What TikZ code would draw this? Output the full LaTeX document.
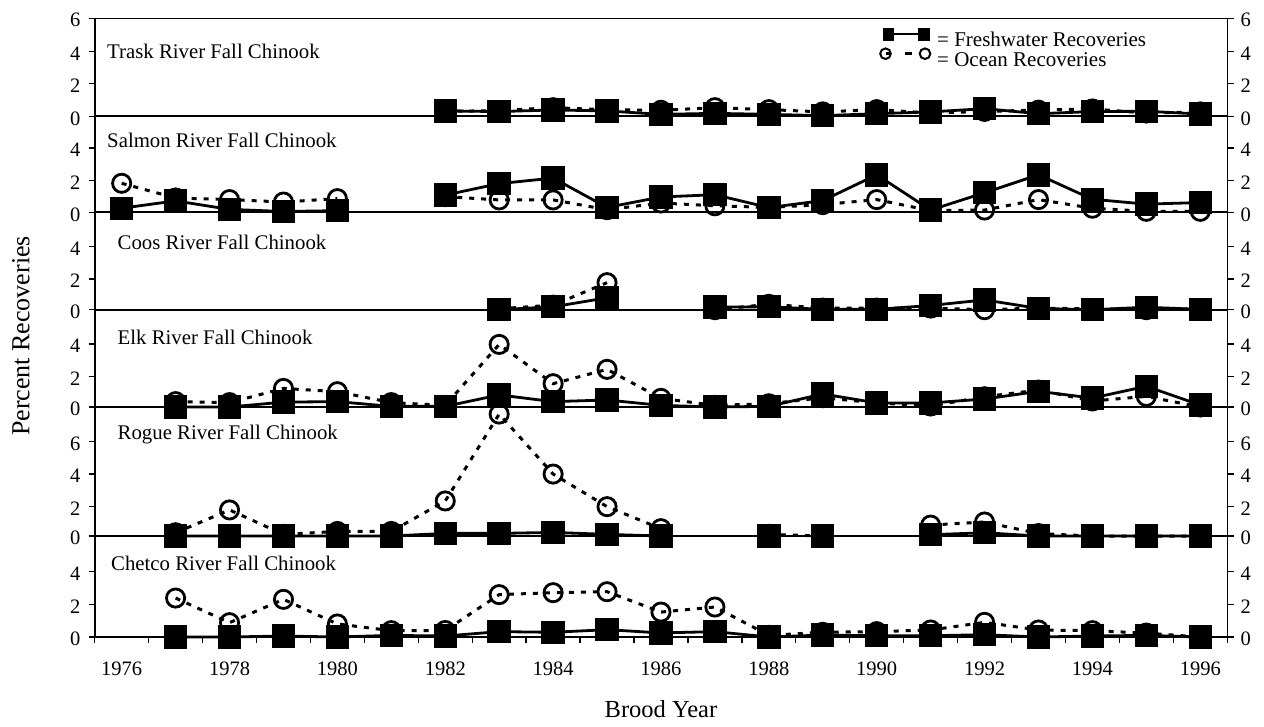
\documentclass[tikz,border=0pt]{standalone}
\usepackage{fontspec}
\setmainfont{Liberation Serif}
\newcommand\mkpth[1]{%
  \gdef\pth{}%
  \foreach \t/\v [count=\i] in {#1}{\ifnum\i=1 \xdef\pth{(\t,\v)}\else\xdef\pth{\pth -- (\t,\v)}\fi}%
}
\newcommand\fseries[1]{%
  \mkpth{#1}%
  \edef\cmd{\noexpand\draw[fline] \pth;}\cmd
  \foreach \t/\v in {#1}{\fill (\t,\v) ++(-11.7pt,-11.7pt) rectangle ++(23.4pt,23.4pt);}%
}
\newcommand\oseries[1]{%
  \mkpth{#1}%
  \edef\cmd{\noexpand\draw[oline] \pth;}\cmd
  \foreach \t/\v in {#1}{\draw[omark] (\t,\v) circle[radius=9.1pt];}%
}
\begin{document}
\begin{tikzpicture}[x=1pt,y=-1pt,
  ax/.style={line width=1.6pt},
  zl/.style={line width=2.3pt},
  tk/.style={line width=1.4pt},
  lab/.style={font=\fontsize{20.5}{24}\selectfont, inner sep=0pt},
  ttl/.style={font=\fontsize{20.8}{24}\selectfont, inner sep=0pt, anchor=base west},
  leg/.style={font=\fontsize{21}{24}\selectfont, inner sep=0pt, anchor=base west},
  fline/.style={line width=2.8pt},
  oline/.style={line width=3pt, dash pattern=on 5pt off 7pt},
  omark/.style={line width=2.8pt, solid},
  panel/.style={x=53.93pt, y=16.3pt}
]
\useasboundingbox (0,0) rectangle (1264,726);
\fill[white] (0,0) rectangle (1264,726);

% frame
\draw[ax] (94.7,18.3) -- (1227.3,18.3);
\draw[ax] (94.7,18.3) -- (94.7,637);
\draw[ax] (1227.3,18.3) -- (1227.3,637);
\foreach \z in {116.3,212.3,309.7,407,536,637}
  \draw[zl] (94.7,\z) -- (1227.3,\z);

% y tick marks and labels
\foreach \yy/\vv [count=\i] in {18.3/6,51.7/4,83.3/2,116.3/0,148/4,180.6/2,212.3/0,246.7/4,279/2,309.7/0,344/4,376.7/2,407/0,441.7/6,474/4,506.7/2,536/0,571.7/4,604.3/2,637/0}{
  \draw[tk] (88.5,\yy) -- (94.7,\yy);
  \draw[tk] (1227.3,\yy) -- (1233.5,\yy);
  \node[lab, anchor=east] (ll\i) at (80.5,\yy+2) {\vv};
  \node[lab, anchor=west] (rl\i) at (1240.5,\yy+2) {\vv};
}
% x ticks and labels
\foreach \k in {0,...,21}
  \draw[tk] ({94.7+\k*53.93},637) -- ({94.7+\k*53.93},643);
\foreach \yr in {1976,1978,...,1996}
  \node[lab, anchor=base] (yr\yr) at ({121.67+(\yr-1976)*53.93},675) {\yr};

% axis titles
\node[font=\fontsize{26}{30}\selectfont, inner sep=0pt, rotate=90] (ytitle) at (21,336) {Percent Recoveries};
\node[font=\fontsize{24.5}{28}\selectfont, inner sep=0pt, anchor=base] (xtitle) at (661,717.3) {Brood Year};

% panel titles
\node[ttl] (t1) at (107,58.8) {Trask River Fall Chinook};
\node[ttl] (t2) at (107,147) {Salmon River Fall Chinook};
\node[ttl] (t3) at (117.5,249.8) {Coos River Fall Chinook};
\node[ttl] (t4) at (117.5,344.8) {Elk River Fall Chinook};
\node[ttl] (t5) at (117.5,439.8) {Rogue River Fall Chinook};
\node[ttl] (t6) at (111,570) {Chetco River Fall Chinook};

% legend
\fill (882.7,28.3) rectangle (894.3,40.7);
\fill (918.3,28.3) rectangle (930,40.7);
\draw[line width=2.5pt] (894,33.8) -- (918.5,33.8);
\draw[line width=2pt] (885.5,53.7) circle[radius=5.3pt];
\draw[line width=2pt] (925,53.7) circle[radius=5.3pt];
\draw[line width=2.2pt] (885.5,53.5) -- (890,53.5);
\draw[line width=2.2pt] (905,53.5) -- (911.5,53.5);
\node[leg] (l1) at (937,46.7) {= Freshwater Recoveries};
\node[leg] (l2) at (937,66.7) {= Ocean Recoveries};

% Trask
\begin{scope}[shift={(121.67,116.3)}, panel]
\oseries{6/.3,7/.35,8/.53,9/.4,10/.37,11/.53,12/.41,13/.27,14/.41,15/.2,16/.3,17/.38,18/.45,19/.2,20/.27}
\fseries{6/.33,7/.29,8/.39,9/.33,10/.12,11/.18,12/.12,13/.04,14/.16,15/.27,16/.47,17/.16,18/.29,19/.31,20/.14}
\end{scope}

% Salmon
\begin{scope}[shift={(121.67,212.3)}, panel]
\oseries{0/1.78,1/.88,2/.78,3/.63,4/.84}
\oseries{6/.96,7/.76,8/.76,9/.16,10/.57,11/.4,12/.3,13/.47,14/.78,15/.1,16/.14,17/.78,18/.25,19/.06,20/.06}
\fseries{0/.25,1/.7,2/.18,3/.05,4/.1}
\fseries{6/1.06,7/1.76,8/2.1,9/.3,10/.94,11/1.08,12/.29,13/.72,14/2.3,15/.14,16/1.2,17/2.3,18/.8,19/.5,20/.6}
\end{scope}

% Coos
\begin{scope}[shift={(121.67,309.7)}, panel]
\oseries{7/.06,8/.28,9/1.66}
\oseries{11/0,12/.33,13/.1,14/.1,15/.1,16/0,17/.1,18/.05,19/0,20/.05}
\fseries{7/0,8/.18,9/.73}
\fseries{11/.16,12/.18,13/.02,14/.02,15/.26,16/.6,17/.08,18/0,19/.15,20/.02}
\end{scope}

% Elk
\begin{scope}[shift={(121.67,407)}, panel]
\oseries{1/.33,2/.27,3/1.14,4/.94,5/.27,6/.1,7/3.84,8/1.43,9/2.31,10/.53,11/.1,12/.2,13/.57,14/.25,15/.06,16/.63,17/1.04,18/.37,19/.65,20/0}
\fseries{1/0,2/0,3/.3,4/.33,5/.04,6/.04,7/.74,8/.33,9/.43,10/.1,11/0,12/.04,13/.8,14/.25,15/.25,16/.49,17/.96,18/.55,19/1.27,20/.12}
\end{scope}

% Rogue
\begin{scope}[shift={(121.67,536)}, panel]
\oseries{1/.2,2/1.6,3/.1,4/.28,5/.28,6/2.15,7/7.48,8/3.8,9/1.8,10/.45}
\oseries{12/.1,13/0}
\oseries{15/.67,16/.86,17/.15,18/0,19/0,20/0}
\fseries{1/0,2/0,3/0,4/0,5/0,6/.16,7/.16,8/.22,9/.1,10/0}
\fseries{12/0,13/0}
\fseries{15/.08,16/.2,17/0,18/0,19/0,20/0}
\end{scope}

% Chetco
\begin{scope}[shift={(121.67,637)}, panel]
\oseries{1/2.39,2/.88,3/2.31,4/.8,5/.39,6/.4,7/2.6,8/2.72,9/2.78,10/1.53,11/1.84,12/.1,13/.29,14/.33,15/.43,16/.9,17/.43,18/.39,19/.24,20/0}
\fseries{1/0,2/0,3/.06,4/0,5/.1,6/.06,7/.33,8/.29,9/.45,10/.25,11/.33,12/0,13/.12,14/.08,15/.08,16/.14,17/0,18/.06,19/.1,20/0}
\end{scope}
\end{tikzpicture}
\end{document}
